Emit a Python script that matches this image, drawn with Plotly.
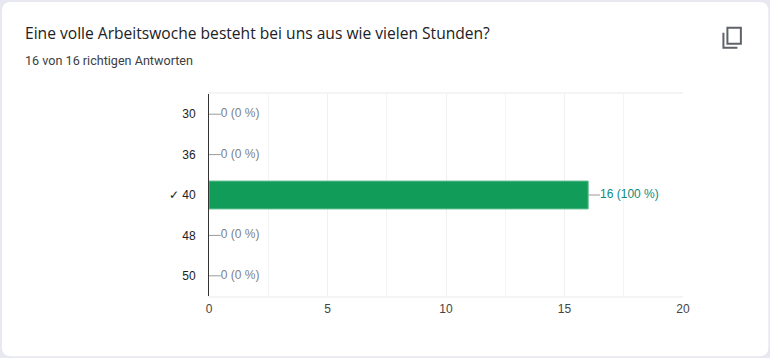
import plotly.graph_objects as go

categories = ["30", "36", "✓ 40", "48", "50"]
answers = [0, 0, 16, 0, 0]
percent = [0, 0, 100, 0, 0]
x_ticks = [0, 5, 10, 15, 20]

W, H = 770, 358
L, R, T, B = 208.5, 683.5, 93.5, 296.5
GREEN = "#129c5a"
TICK_FONT = "Liberation Sans"

fig = go.Figure()
fig.add_bar(y=categories, x=answers, orientation="h", showlegend=False,
            marker=dict(color=[GREEN if v else "rgba(0,0,0,0)" for v in answers],
                        line=dict(color=["#63bf92" if v else "rgba(0,0,0,0)" for v in answers], width=1)),
            hoverinfo="skip")

# leader lines and value labels
LEAD = 0.5
for c, v, p in zip(categories, answers, percent):
    fig.add_scatter(x=[v, v + LEAD], y=[c, c], mode="lines", showlegend=False,
                    line=dict(color="#9a9a9a", width=1), hoverinfo="skip")
    col = "#0c8a7c" if v else "#7c7f86"
    fig.add_scatter(x=[v + LEAD], y=[c], mode="text", showlegend=False,
                    text=[f"{v} ({p} %)"], textposition="middle right",
                    textfont=dict(family=TICK_FONT, size=12, color=col), hoverinfo="skip")

fig.update_xaxes(range=[0, 20], tickmode="array", tickvals=x_ticks, ticks="",
                 showgrid=True, gridcolor="#f0f0f0", gridwidth=1, zeroline=False,
                 minor=dict(dtick=2.5, showgrid=True, gridcolor="#f4f4f4", gridwidth=1),
                 showline=True, linecolor="#f4f4f4", linewidth=2, mirror=True,
                 ticklabelstandoff=1,
                 tickfont=dict(family=TICK_FONT, size=12, color="#444444"), ticklen=0)
fig.update_yaxes(categoryorder="array", categoryarray=categories, autorange="reversed",
                 showgrid=False, zeroline=False, showline=True, linecolor="#333333", linewidth=1,
                 ticks="", ticklabelstandoff=10,
                 tickfont=dict(family=TICK_FONT, size=12, color="#222222"))

def px(x): return (x - L) / (R - L)
def py(y): return 1 - (y - T) / (B - T)

r = 9; x0, x1, y0, y1 = 1, 769, 1, 357
card = (f"M {px(x0+r)} {py(y0)} L {px(x1-r)} {py(y0)} Q {px(x1)} {py(y0)} {px(x1)} {py(y0+r)} "
        f"L {px(x1)} {py(y1-r)} Q {px(x1)} {py(y1)} {px(x1-r)} {py(y1)} L {px(x0+r)} {py(y1)} "
        f"Q {px(x0)} {py(y1)} {px(x0)} {py(y1-r)} L {px(x0)} {py(y0+r)} Q {px(x0)} {py(y0)} {px(x0+r)} {py(y0)} Z")
icon_front = f"M {px(728)} {py(27)} L {px(741.5)} {py(27)} L {px(741.5)} {py(43)} L {px(728)} {py(43)} Z"
icon_back = f"M {px(724)} {py(32)} L {px(724)} {py(47)} L {px(738)} {py(47)}"

fig.update_layout(
    width=W, height=H, bargap=0.31, paper_bgcolor="#e8e8f1", plot_bgcolor="rgba(0,0,0,0)",
    margin=dict(l=L, r=W - R, t=T, b=H - B, autoexpand=False),
    font=dict(family="Roboto"),
    shapes=[
        dict(type="path", xref="paper", yref="paper", layer="below", path=card, fillcolor="#ffffff", line=dict(width=0)),
        dict(type="path", xref="paper", yref="paper", layer="above", path=icon_front, line=dict(color="#5f6368", width=2)),
        dict(type="path", xref="paper", yref="paper", layer="above", path=icon_back, line=dict(color="#5f6368", width=2)),
    ],
)
fig.add_annotation(xref="paper", yref="paper", x=px(22), y=py(32), xanchor="left", yanchor="middle", showarrow=False,
                   text="Eine volle Arbeitswoche besteht bei uns aus wie vielen Stunden?",
                   font=dict(family="Open Sans", size=15.6, color="#202124"))
fig.add_annotation(xref="paper", yref="paper", x=px(22), y=py(60), xanchor="left", yanchor="middle", showarrow=False,
                   text="16 von 16 richtigen Antworten",
                   font=dict(family="Roboto", size=12.6, color="#3c4043"))

fig.write_html("out.html", config={"displayModeBar": False},
               post_script="document.body.style.margin='0';document.body.style.background='#e8e8f1';")
